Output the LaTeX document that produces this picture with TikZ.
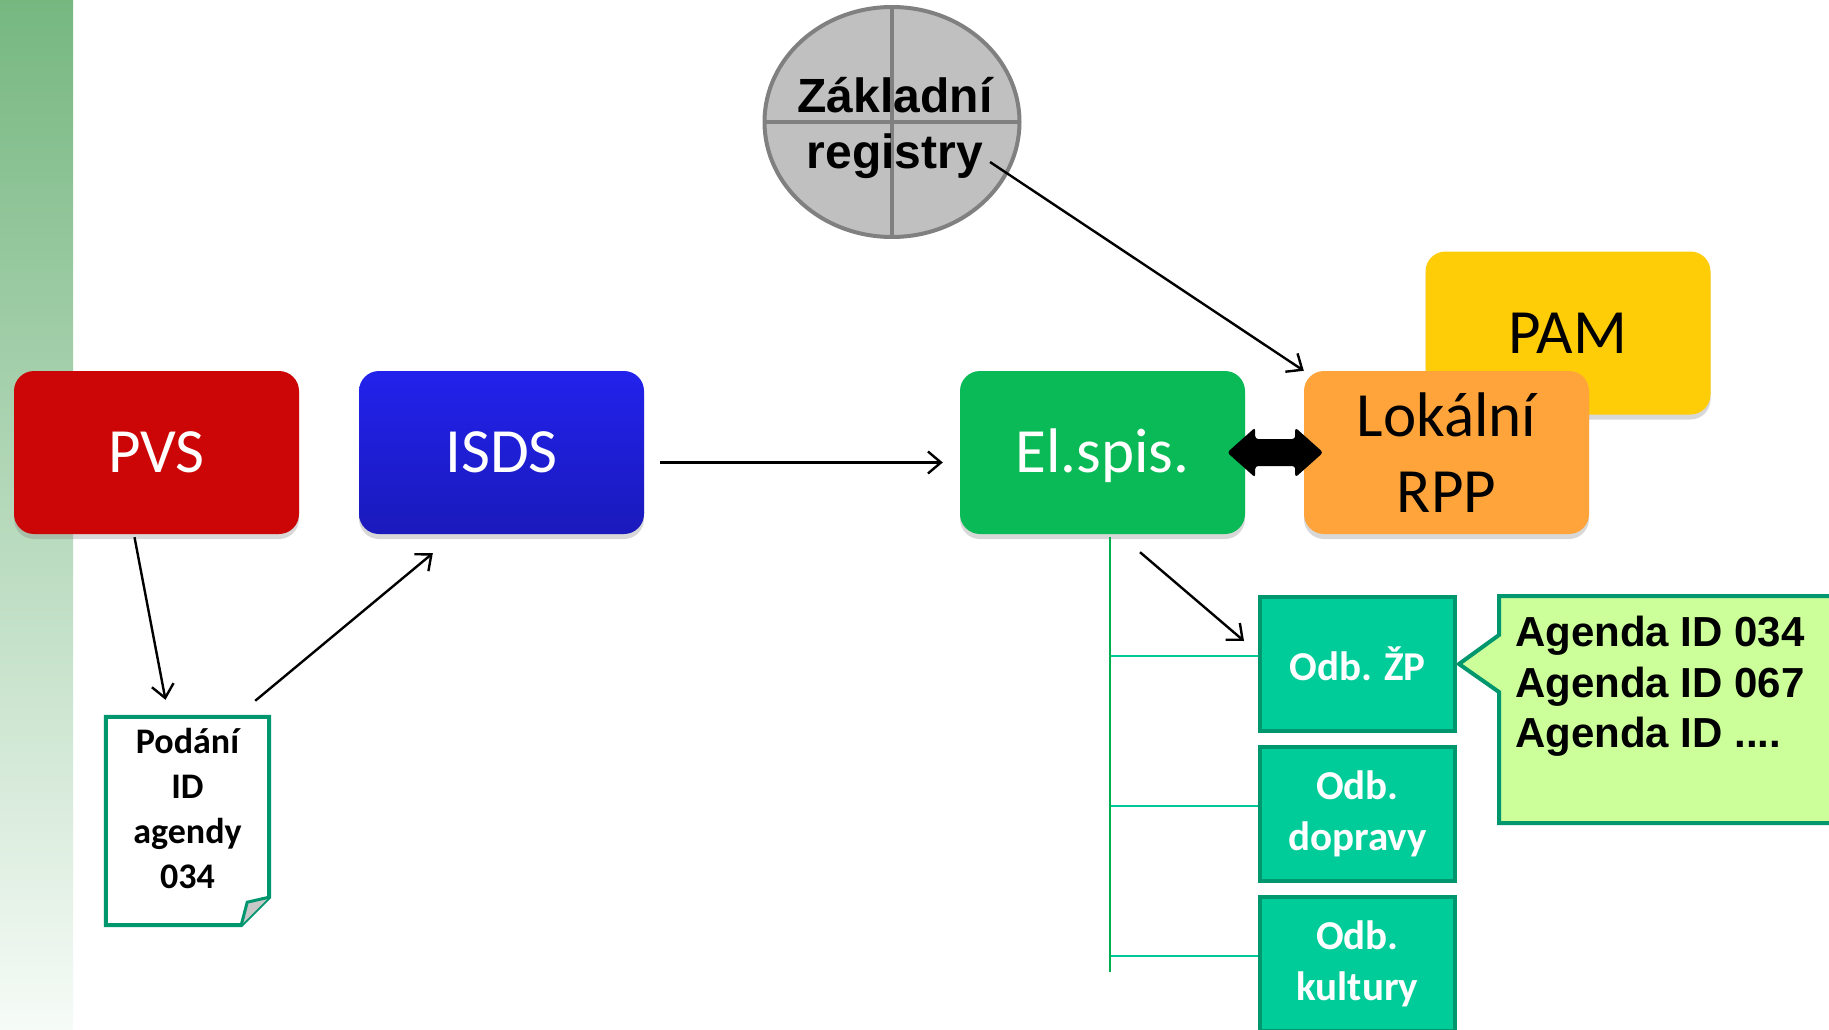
\documentclass[tikz,border=0pt]{standalone}
\usepackage{fontspec}
\setmainfont{Carlito}
\newfontfamily\arialfont{Liberation Sans}
\usetikzlibrary{arrows.meta,shadows,shapes.geometric}

\definecolor{bandtop}{RGB}{118,183,128}
\definecolor{bandbot}{RGB}{246,251,247}
\definecolor{pvsred}{RGB}{204,6,6}
\definecolor{isdstop}{RGB}{34,34,236}
\definecolor{isdsbot}{RGB}{26,26,188}
\definecolor{elgreen}{RGB}{10,186,86}
\definecolor{rpporan}{RGB}{255,164,58}
\definecolor{pamyel}{RGB}{255,204,8}
\definecolor{zrfill}{RGB}{192,192,192}
\definecolor{zrline}{RGB}{128,128,128}
\definecolor{odbfill}{RGB}{0,204,153}
\definecolor{odbline}{RGB}{0,150,110}
\definecolor{infofill}{RGB}{204,255,153}
\definecolor{kmencol}{RGB}{0,176,80}
\definecolor{vetevcol}{RGB}{0,200,150}
\definecolor{foldgray}{RGB}{200,200,200}

\tikzset{
  blok/.style={rectangle, rounded corners=20pt, minimum width=285pt, minimum height=163pt,
    inner sep=0pt, align=center, font=\fontsize{63}{76}\selectfont,
    drop shadow={opacity=0.3, shadow xshift=0pt, shadow yshift=-5pt}},
  jeden/.style={text height=40pt, text depth=0pt},
  odbor/.style={rectangle, draw=odbline, line width=4pt, fill=odbfill, minimum width=195pt,
    minimum height=134pt, inner sep=0pt, align=center, text=white,
    font=\bfseries\fontsize{41}{51}\selectfont},
  sipka/.style={-{Straight Barb[length=13pt,width=22pt]}, line width=2.4pt},
  vetev/.style={draw=vetevcol, line width=2.5pt}
}

\begin{document}
\begin{tikzpicture}[x=1pt,y=-1pt]
  \useasboundingbox (0,0) rectangle (1829,1030);
  \fill[white] (0,0) rectangle (1829,1030);
  \shade[top color=bandtop, bottom color=bandbot] (0,0) rectangle (73,1030);

  % hlavni bloky
  \node[blok, fill=pvsred, text=white, jeden] (pvs) at (156.5,452.5) {PVS};
  \node[blok, top color=isdstop, bottom color=isdsbot, text=white, jeden] (isds) at (501.5,452.5) {ISDS};
  \node[blok, fill=elgreen, text=white, jeden] (elspis) at (1102.5,452.5) {El.spis.};
  \node[blok, fill=pamyel, jeden] (pam) at (1568,333) {PAM};
  \node[blok, fill=rpporan] (rpp) at (1446.5,452.5) {Lokální\\RPP};

  % zakladni registry
  \node[ellipse, draw=zrline, line width=4pt, fill=zrfill, minimum width=255pt, minimum height=230pt,
    path picture={\draw[zrline, line width=4pt]
      (path picture bounding box.north) -- (path picture bounding box.south)
      (path picture bounding box.west) -- (path picture bounding box.east);}] (zr) at (892,122) {};
  \node[font=\arialfont\bfseries\fontsize{48}{56}\selectfont, align=center] (zrtext)
    at ([shift={(3pt,-6pt)}]zr.center) {Základní\\registry};

  % podani
  \node[inner sep=0pt, minimum width=163pt, minimum height=208pt] (doc) at (187.5,821) {};
  \draw[odbline, line width=4pt, fill=white, line join=miter] (doc.north west) -- (doc.north east)
    -- ([yshift=28pt]doc.south east) -- ([xshift=-28pt]doc.south east) -- (doc.south west) -- cycle;
  \draw[odbline, line width=3pt, fill=foldgray, line join=miter] ([xshift=-28pt]doc.south east)
    -- ([shift={(-22pt,23pt)}]doc.south east) -- ([yshift=28pt]doc.south east);
  \node[font=\bfseries\fontsize{36}{45}\selectfont, align=center] (podani)
    at ([yshift=13pt]doc.center) {Podání\\ID\\agendy\\034};

  % odbory
  \node[odbor] (zp) at (1357.5,664) {Odb. ŽP};
  \node[odbor] (dop) at (1357.5,814) {Odb.\\dopravy};
  \node[odbor] (kul) at (1357.5,964) {Odb.\\kultury};

  \coordinate (kmen) at ([xshift=7.5pt,yshift=-3pt]elspis.south);
  \coordinate (kmenkonec) at (1110,972);
  \foreach \o in {zp,dop,kul}
    \draw[vetev] ([yshift=8pt]\o.west) -| (kmen);
  \draw[kmencol, line width=2.5pt] (kmen) -- (kmenkonec);

  % bublina s agendami
  \draw[odbline, line width=4pt, fill=infofill, line join=miter] ([xshift=2pt]zp.east) -- (1499,635)
    -- (1499,596) -- (1842,596) -- (1842,823) -- (1499,823) -- (1499,692) -- cycle;
  \node[anchor=north west, inner sep=0pt, align=left, font=\arialfont\bfseries\fontsize{42}{50.5}\selectfont]
    (agendy) at (1515,616) {Agenda ID 034\\Agenda ID 067\\Agenda ID ....};

  % sipky
  \draw[sipka] ([shift={(-22pt,-3pt)}]pvs.south) -- ([shift={(-22pt,17pt)}]doc.north);
  \draw[sipka] ([shift={(-14pt,16pt)}]doc.north east) -- ([shift={(74pt,-19pt)}]isds.south west);
  \draw[sipka] ([shift={(16pt,-10pt)}]isds.east) -- ([shift={(-17pt,-10pt)}]elspis.west);
  \draw[sipka] ([shift={(98pt,-40pt)}]zr.center) -- (rpp.north west);
  \draw[sipka] ([shift={(37.5pt,-18pt)}]elspis.south) -- ([shift={(-14pt,23pt)}]zp.west);
  \fill[rounded corners=3pt] ([xshift=-18pt]elspis.east) -- ++(28,-25) -- ++(0,11.5) -- ++(40,0)
    -- ++(0,-11.5) -- ++(28,25) -- ++(-28,25) -- ++(0,-11.5) -- ++(-40,0) -- ++(0,11.5) -- cycle;
\end{tikzpicture}
\end{document}
